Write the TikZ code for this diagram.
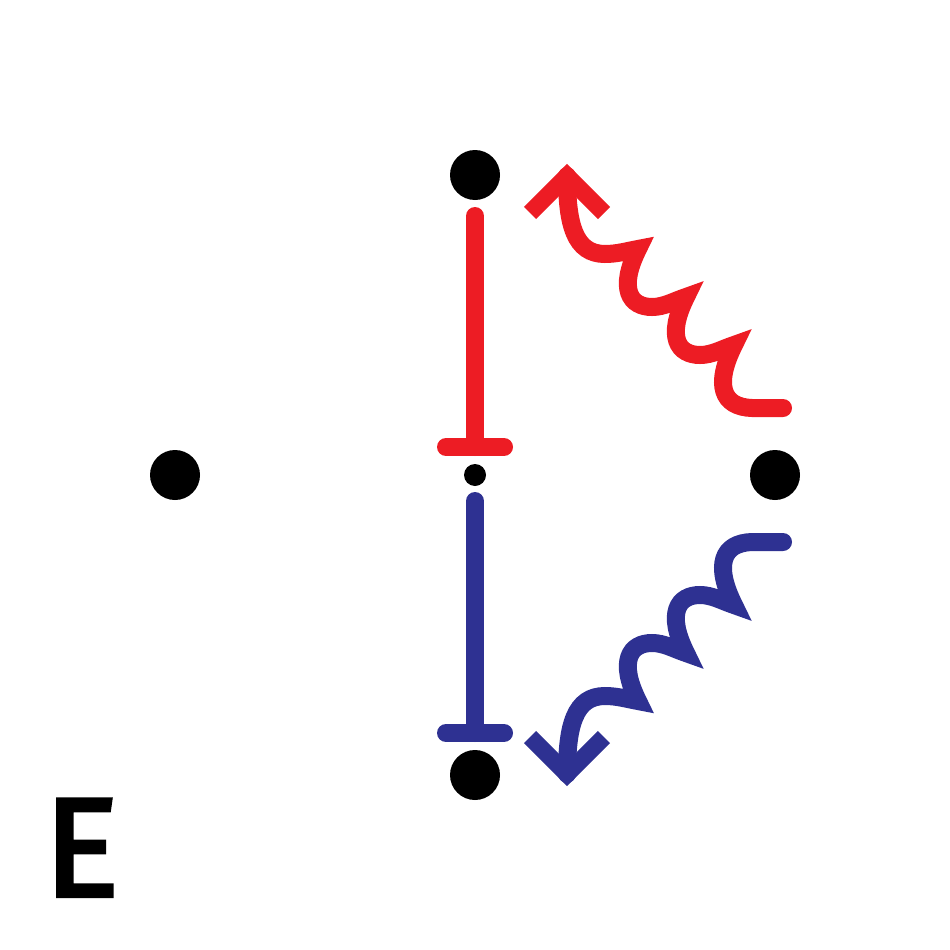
\documentclass[tikz,border=0pt]{standalone}
\usepackage{fontspec}
\usepackage{tikz}
\usetikzlibrary{calc}
\newfontfamily\panelfont{Fira Sans}[FakeBold=3]
\definecolor{actred}{RGB}{237,28,36}
\definecolor{inhblue}{RGB}{46,49,146}
% wavy arrow, written for the upper (red) one; the lower one is its mirror
\newcommand{\wavyline}{%
  (567,176) .. controls (567,225) and (575,254) .. (605,254)
            .. controls (617,254) and (627,251) .. (638,249)
            .. controls (618,289) and (630,307) .. (652,307)
            .. controls (664,307) and (674,301) .. (686,297)
            .. controls (666,337) and (678,355) .. (700,355)
            .. controls (712,355) and (722,349) .. (734,345)
            .. controls (714,385) and (722,407) .. (752,408) -- (783,408)}
\newcommand{\wavyhead}{(530,213) -- (567,176) -- (604,213)}

\begin{document}
\begin{tikzpicture}[x=1pt,y=-1pt,
  dot/.style={circle,fill=black,inner sep=0pt,minimum size=50pt},
  smalldot/.style={circle,fill=black,inner sep=0pt,minimum size=22pt},
  stem/.style={line width=18pt,line cap=round},
  wave/.style={line width=18pt,line cap=round,line join=miter},
  head/.style={line width=17pt,line cap=butt,line join=miter}]
  \useasboundingbox (0,0) rectangle (950,950);
  % the four states and the centre point
  \node[dot] (top) at (475,175) {};
  \node[dot] (left) at (175,475) {};
  \node[dot] (right) at (775,475) {};
  \node[dot] (bottom) at (475,775) {};
  \node[smalldot] (mid) at (475,475) {};
  % red inhibition, from top down to the centre
  \draw[stem,actred] ($(top)+(0,41)$) -- ($(mid)+(0,-28)$);
  \draw[stem,actred] ($(mid)+(-29,-28)$) -- ($(mid)+(29,-28)$);
  % blue inhibition, from the centre down to the bottom
  \draw[stem,inhblue] ($(mid)+(0,26)$) -- ($(bottom)+(0,-42)$);
  \draw[stem,inhblue] ($(bottom)+(-29,-42)$) -- ($(bottom)+(29,-42)$);
  % wavy arrows on the right
  \draw[wave,actred] \wavyline;
  \draw[head,actred] \wavyhead;
  \begin{scope}[shift={(0,950)},yscale=-1]
    \draw[wave,inhblue] \wavyline;
    \draw[head,inhblue] \wavyhead;
  \end{scope}
  % panel letter
  \node[font=\panelfont\fontsize{140}{140}\selectfont,inner sep=0pt,
        anchor=base west] (panel) at (44,896) {E};
\end{tikzpicture}
\end{document}
